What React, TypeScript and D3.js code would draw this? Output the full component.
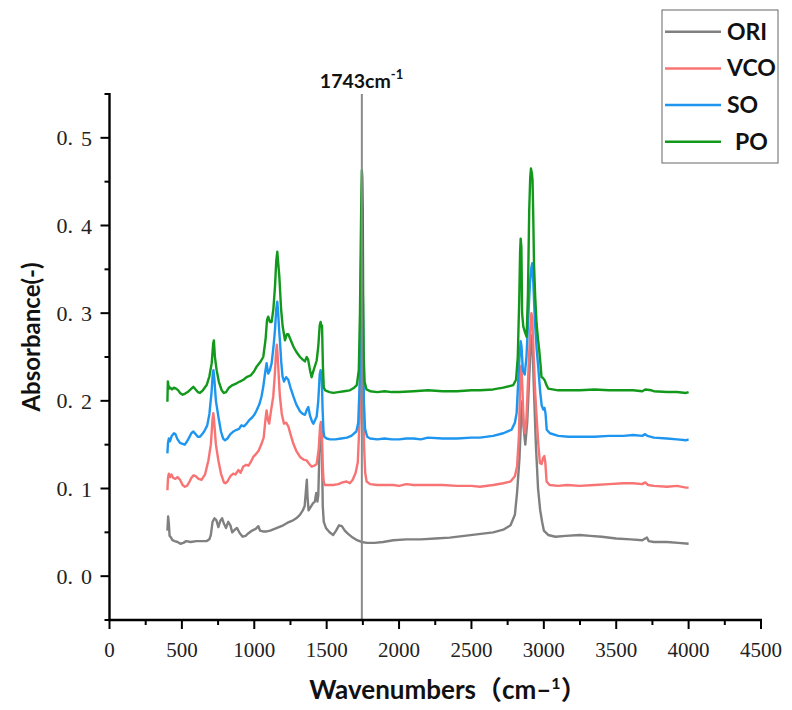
import React from "react";
import * as d3 from "d3";

type P = [number, number];

const seriesNames = ["ORI", "VCO", "SO", "PO"];
const seriesColors = ["#808080", "#f87474", "#1e96f0", "#12991c"];

const xTicks = [0, 500, 1000, 1500, 2000, 2500, 3000, 3500, 4000, 4500];
const yTicks = [0.0, 0.1, 0.2, 0.3, 0.4, 0.5];
const markerWn = 1743;

const ori: P[] = [
  [400,0.052],[405,0.068],[410,0.060],[415,0.046],[425,0.044],[435,0.041],[450,0.040],[470,0.039],[490,0.037],[510,0.038],[530,0.040],[560,0.039],[600,0.040],[640,0.040],[670,0.040],[690,0.042],[700,0.047],[712,0.062],[725,0.066],[738,0.064],[752,0.056],[765,0.063],[778,0.066],[790,0.060],[805,0.055],[820,0.062],[835,0.058],[848,0.050],[865,0.053],[880,0.055],[900,0.049],[920,0.045],[940,0.046],[960,0.049],[985,0.052],[1010,0.054],[1028,0.057],[1040,0.052],[1060,0.051],[1085,0.051],[1110,0.052],[1140,0.054],[1170,0.056],[1200,0.058],[1230,0.061],[1260,0.063],[1290,0.066],[1315,0.070],[1335,0.075],[1348,0.080],[1358,0.100],[1363,0.110],[1368,0.090],[1375,0.075],[1390,0.079],[1405,0.083],[1418,0.085],[1428,0.095],[1436,0.085],[1442,0.092],[1450,0.140],[1458,0.165],[1463,0.168],[1468,0.140],[1473,0.080],[1480,0.062],[1495,0.055],[1520,0.050],[1545,0.047],[1565,0.052],[1585,0.058],[1605,0.057],[1625,0.052],[1650,0.048],[1680,0.044],[1710,0.041],[1740,0.039],[1780,0.038],[1830,0.038],[1890,0.039],[1960,0.041],[2050,0.042],[2150,0.042],[2250,0.043],[2350,0.044],[2450,0.046],[2550,0.048],[2650,0.050],[2720,0.053],[2770,0.058],[2800,0.070],[2815,0.095],[2832,0.135],[2845,0.190],[2852,0.200],[2860,0.170],[2872,0.150],[2885,0.175],[2900,0.230],[2912,0.270],[2920,0.275],[2930,0.220],[2945,0.150],[2960,0.100],[2975,0.075],[2988,0.062],[3000,0.052],[3030,0.047],[3080,0.045],[3150,0.046],[3250,0.047],[3320,0.046],[3400,0.045],[3500,0.043],[3600,0.042],[3680,0.041],[3700,0.043],[3712,0.044],[3725,0.040],[3760,0.039],[3850,0.039],[3930,0.038],[4000,0.037]
];

const vco: P[] = [
  [400,0.098],[404,0.112],[410,0.117],[418,0.113],[428,0.116],[440,0.112],[455,0.111],[470,0.113],[487,0.110],[505,0.104],[520,0.102],[535,0.103],[550,0.107],[565,0.112],[580,0.115],[595,0.114],[615,0.111],[637,0.110],[660,0.116],[683,0.132],[700,0.150],[712,0.180],[717,0.186],[722,0.178],[735,0.150],[752,0.132],[770,0.117],[790,0.107],[800,0.106],[815,0.108],[835,0.114],[855,0.117],[870,0.116],[890,0.121],[905,0.118],[924,0.125],[945,0.127],[960,0.126],[975,0.130],[993,0.136],[1010,0.139],[1030,0.143],[1050,0.151],[1065,0.158],[1078,0.180],[1085,0.189],[1095,0.178],[1103,0.174],[1115,0.188],[1131,0.205],[1142,0.230],[1150,0.255],[1156,0.264],[1162,0.250],[1170,0.225],[1177,0.205],[1190,0.185],[1205,0.174],[1220,0.175],[1235,0.171],[1250,0.162],[1270,0.151],[1290,0.143],[1316,0.136],[1340,0.133],[1362,0.132],[1380,0.128],[1396,0.125],[1415,0.126],[1431,0.128],[1445,0.145],[1455,0.172],[1460,0.176],[1466,0.170],[1472,0.130],[1478,0.110],[1485,0.104],[1510,0.104],[1546,0.104],[1580,0.105],[1610,0.107],[1638,0.108],[1660,0.106],[1680,0.110],[1700,0.118],[1715,0.130],[1728,0.180],[1735,0.280],[1741,0.330],[1746,0.320],[1751,0.240],[1758,0.150],[1766,0.118],[1776,0.108],[1800,0.105],[1850,0.104],[1900,0.104],[1960,0.104],[2000,0.103],[2050,0.105],[2100,0.104],[2200,0.104],[2300,0.104],[2400,0.103],[2500,0.103],[2559,0.102],[2650,0.104],[2720,0.106],[2770,0.108],[2800,0.114],[2815,0.125],[2828,0.160],[2838,0.230],[2845,0.240],[2852,0.215],[2860,0.175],[2869,0.163],[2880,0.180],[2895,0.240],[2906,0.280],[2914,0.300],[2920,0.295],[2928,0.260],[2940,0.210],[2950,0.182],[2962,0.150],[2973,0.129],[2985,0.128],[2995,0.135],[3003,0.137],[3010,0.130],[3019,0.108],[3040,0.104],[3100,0.103],[3160,0.104],[3249,0.103],[3350,0.104],[3450,0.105],[3550,0.106],[3617,0.106],[3680,0.105],[3700,0.107],[3720,0.104],[3760,0.103],[3850,0.102],[3920,0.103],[3982,0.101],[4000,0.101]
];

const so: P[] = [
  [400,0.140],[404,0.152],[410,0.157],[418,0.154],[430,0.160],[445,0.163],[455,0.162],[470,0.156],[487,0.152],[505,0.151],[520,0.150],[533,0.153],[550,0.158],[565,0.163],[579,0.165],[595,0.162],[610,0.159],[625,0.159],[645,0.163],[660,0.167],[675,0.172],[690,0.185],[705,0.210],[713,0.230],[718,0.235],[724,0.225],[735,0.200],[752,0.182],[770,0.165],[785,0.157],[798,0.155],[815,0.157],[835,0.162],[855,0.165],[878,0.167],[895,0.168],[910,0.172],[930,0.171],[947,0.174],[965,0.178],[985,0.181],[1000,0.184],[1016,0.189],[1035,0.196],[1050,0.205],[1062,0.216],[1075,0.232],[1085,0.243],[1096,0.231],[1108,0.235],[1120,0.243],[1133,0.262],[1143,0.281],[1152,0.305],[1159,0.313],[1165,0.300],[1172,0.280],[1177,0.269],[1186,0.245],[1195,0.228],[1205,0.222],[1220,0.227],[1235,0.224],[1250,0.215],[1270,0.205],[1290,0.196],[1316,0.188],[1335,0.185],[1350,0.184],[1363,0.190],[1373,0.193],[1385,0.183],[1400,0.176],[1408,0.174],[1420,0.178],[1431,0.182],[1442,0.200],[1452,0.230],[1458,0.235],[1466,0.227],[1472,0.190],[1478,0.165],[1484,0.159],[1500,0.157],[1523,0.156],[1560,0.156],[1600,0.157],[1640,0.158],[1670,0.160],[1690,0.163],[1705,0.165],[1718,0.175],[1728,0.220],[1735,0.320],[1741,0.400],[1746,0.390],[1751,0.300],[1757,0.200],[1765,0.168],[1780,0.159],[1800,0.157],[1850,0.156],[1900,0.157],[1950,0.156],[2000,0.156],[2050,0.157],[2100,0.157],[2150,0.156],[2200,0.158],[2300,0.157],[2400,0.157],[2500,0.158],[2559,0.158],[2650,0.160],[2720,0.163],[2777,0.167],[2800,0.175],[2812,0.186],[2824,0.225],[2832,0.250],[2840,0.268],[2846,0.262],[2855,0.235],[2868,0.230],[2880,0.250],[2894,0.300],[2904,0.334],[2914,0.352],[2920,0.357],[2926,0.340],[2938,0.292],[2950,0.260],[2961,0.239],[2975,0.210],[2985,0.195],[2996,0.190],[3005,0.192],[3012,0.185],[3020,0.167],[3042,0.163],[3100,0.160],[3170,0.159],[3249,0.159],[3350,0.159],[3450,0.160],[3550,0.160],[3617,0.161],[3680,0.160],[3700,0.162],[3715,0.160],[3760,0.158],[3850,0.157],[3920,0.156],[3982,0.155],[4000,0.156]
];

const po: P[] = [
  [400,0.199],[403,0.222],[407,0.218],[412,0.214],[420,0.215],[432,0.213],[445,0.215],[460,0.214],[475,0.212],[487,0.209],[505,0.207],[520,0.208],[540,0.210],[560,0.213],[579,0.216],[595,0.213],[610,0.210],[625,0.209],[645,0.212],[671,0.218],[690,0.228],[706,0.243],[716,0.265],[721,0.269],[728,0.250],[740,0.235],[755,0.222],[775,0.212],[790,0.209],[805,0.210],[825,0.215],[850,0.218],[878,0.220],[900,0.222],[925,0.224],[947,0.227],[975,0.229],[1000,0.234],[1016,0.239],[1040,0.244],[1062,0.250],[1078,0.270],[1088,0.292],[1096,0.296],[1108,0.290],[1120,0.290],[1132,0.305],[1143,0.330],[1152,0.360],[1159,0.370],[1165,0.358],[1173,0.342],[1185,0.305],[1196,0.285],[1212,0.269],[1225,0.276],[1235,0.276],[1250,0.270],[1270,0.262],[1290,0.256],[1316,0.250],[1335,0.247],[1350,0.245],[1362,0.250],[1372,0.247],[1385,0.235],[1396,0.227],[1410,0.235],[1431,0.246],[1442,0.262],[1452,0.286],[1458,0.290],[1463,0.285],[1468,0.286],[1474,0.240],[1480,0.215],[1490,0.212],[1520,0.210],[1546,0.209],[1580,0.210],[1620,0.211],[1660,0.212],[1690,0.215],[1708,0.218],[1722,0.235],[1730,0.300],[1735,0.372],[1740,0.440],[1743,0.463],[1746,0.455],[1749,0.420],[1752,0.322],[1756,0.250],[1762,0.222],[1775,0.213],[1800,0.211],[1850,0.210],[1900,0.211],[1950,0.210],[2000,0.210],[2100,0.211],[2200,0.212],[2300,0.211],[2400,0.211],[2500,0.212],[2559,0.212],[2650,0.213],[2720,0.215],[2789,0.218],[2808,0.224],[2820,0.250],[2830,0.315],[2836,0.370],[2840,0.385],[2845,0.375],[2850,0.300],[2858,0.285],[2870,0.278],[2881,0.273],[2890,0.320],[2899,0.417],[2906,0.455],[2911,0.465],[2917,0.460],[2922,0.452],[2927,0.410],[2932,0.357],[2940,0.320],[2950,0.288],[2960,0.270],[2968,0.258],[2978,0.240],[2984,0.227],[2995,0.226],[3007,0.223],[3018,0.218],[3030,0.214],[3100,0.212],[3200,0.212],[3249,0.212],[3350,0.213],[3450,0.212],[3550,0.212],[3617,0.212],[3680,0.211],[3700,0.213],[3743,0.212],[3760,0.211],[3850,0.210],[3920,0.210],[3982,0.209],[4000,0.210]
];

const seriesData = [ori, vco, so, po];

const W = 792;
const H = 710;
const M = { left: 109.5, right: 761, top: 94, bottom: 620 };

const sansBold = "Lato, 'Noto Sans', 'Noto Sans CJK SC', sans-serif";
const serif = "'Liberation Serif', 'DejaVu Serif', serif";

export default function App() {
  const x = d3.scaleLinear().domain([0, 4500]).range([M.left, M.right]);
  const y = d3.scaleLinear().domain([-0.05, 0.55]).range([M.bottom, M.top]);
  const line = d3
    .line<P>()
    .x((d) => x(d[0]))
    .y((d) => y(d[1]));

  const xMinor = d3.range(250, 4500, 500);
  const yMinor = d3.range(-0.05, 0.56, 0.1);

  return (
    <svg
      width={W}
      height={H}
      style={{ position: "absolute", left: 0, top: 0, background: "#fff" }}
    >
      <rect x={0} y={0} width={W} height={H} fill="#fff" />
      {seriesData.map((d, i) => (
        <path
          key={seriesNames[i]}
          d={line(d) || ""}
          fill="none"
          stroke={seriesColors[i]}
          strokeWidth={2.4}
          strokeLinejoin="round"
        />
      ))}
      <line
        x1={x(markerWn)}
        x2={x(markerWn)}
        y1={y(0.55)}
        y2={y(-0.05)}
        stroke="#8a8a8a"
        strokeWidth={2}
      />
      <text
        x={x(markerWn) - 42}
        y={88}
        fontFamily={sansBold}
        fontWeight="bold"
        fontSize={19.5}
        fill="#111"
      >
        {`${markerWn}cm`}
        <tspan fontSize={13} dy={-9}>
          -1
        </tspan>
      </text>

      <line x1={M.left} x2={M.left} y1={M.top - 1} y2={M.bottom + 1} stroke="#000" strokeWidth={2.4} />
      <line x1={M.left - 1} x2={M.right + 1} y1={M.bottom} y2={M.bottom} stroke="#000" strokeWidth={2.4} />
      {yTicks.map((t) => (
        <g key={"yt" + t}>
          <line x1={M.left - 9} x2={M.left} y1={y(t)} y2={y(t)} stroke="#000" strokeWidth={2} />
          <text
            x={92}
            y={y(t)}
            dominantBaseline="central"
            textAnchor="end"
            fontFamily={serif}
            fontSize={22}
            fill="#222"
          >
            {t.toFixed(1).split(".")[0] + "."}
            <tspan dx={8}>{t.toFixed(1).split(".")[1]}</tspan>
          </text>
        </g>
      ))}
      {yMinor.map((t) => (
        <line key={"ym" + t} x1={M.left - 5} x2={M.left} y1={y(t)} y2={y(t)} stroke="#000" strokeWidth={2} />
      ))}
      {xTicks.map((t) => (
        <g key={"xt" + t}>
          <line x1={x(t)} x2={x(t)} y1={M.bottom} y2={M.bottom + 9} stroke="#000" strokeWidth={2} />
          <text
            x={x(t)}
            y={657}
            textAnchor="middle"
            fontFamily={serif}
            fontSize={21}
            fill="#222"
          >
            {t}
          </text>
        </g>
      ))}
      {xMinor.map((t) => (
        <line key={"xm" + t} x1={x(t)} x2={x(t)} y1={M.bottom} y2={M.bottom + 5} stroke="#000" strokeWidth={2} />
      ))}

      <text
        x={448}
        y={699}
        textAnchor="middle"
        fontFamily={sansBold}
        fontWeight="bold"
        fontSize={26}
        fill="#111"
      >
        Wavenumbers（cm–<tspan fontSize={16} dy={-10}>1</tspan>
        <tspan dy={10}>）</tspan>
      </text>
      <text
        transform="translate(40,337) rotate(-90)"
        textAnchor="middle"
        fontFamily={sansBold}
        fontWeight="bold"
        fontSize={24}
        fill="#111"
      >
        Absorbance(-)
      </text>

      <rect x={662} y={10} width={116} height={153} fill="#fff" stroke="#666" strokeWidth={1} />
      {seriesNames.map((n, i) => {
        const ly = 31.7 + i * 36.7;
        return (
          <g key={"lg" + n}>
            <line x1={665} x2={721} y1={ly} y2={ly} stroke={seriesColors[i]} strokeWidth={2.5} />
            <text
              x={n === "PO" ? 735 : 727}
              y={ly + 8}
              fontFamily={sansBold}
              fontWeight="bold"
              fontSize={23}
              fill="#111"
            >
              {n}
            </text>
          </g>
        );
      })}
    </svg>
  );
}
